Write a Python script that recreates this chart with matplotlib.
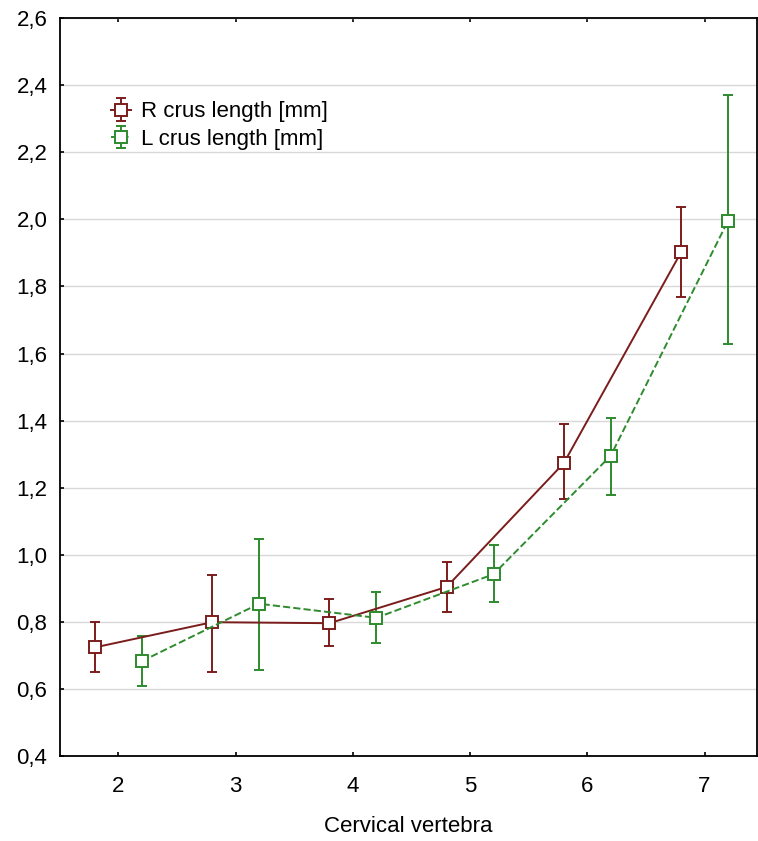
import numpy as np
import matplotlib.pyplot as plt

plt.rcParams['font.family'] = ['Liberation Sans', 'DejaVu Sans']

# 颈椎序号
vertebra = [2, 3, 4, 5, 6, 7]

# 右侧 crus 长度 (均值与误差上下限)
r_mean = [0.725, 0.80, 0.797, 0.905, 1.274, 1.902]
r_low = [0.651, 0.651, 0.729, 0.829, 1.168, 1.768]
r_high = [0.800, 0.940, 0.869, 0.979, 1.390, 2.038]

# 左侧 crus 长度
l_mean = [0.684, 0.855, 0.813, 0.943, 1.296, 1.995]
l_low = [0.609, 0.659, 0.738, 0.860, 1.180, 1.629]
l_high = [0.758, 1.048, 0.889, 1.029, 1.409, 2.370]

y_ticks = [0.4, 0.6, 0.8, 1.0, 1.2, 1.4, 1.6, 1.8, 2.0, 2.2, 2.4, 2.6]
y_tick_labels = ['0,4', '0,6', '0,8', '1,0', '1,2', '1,4', '1,6', '1,8', '2,0', '2,2', '2,4', '2,6']

red = '#7b1c1c'
green = '#2e8b2e'

x = np.array(vertebra, dtype=float)
r_mean = np.array(r_mean)
l_mean = np.array(l_mean)
r_err = [r_mean - np.array(r_low), np.array(r_high) - r_mean]
l_err = [l_mean - np.array(l_low), np.array(l_high) - l_mean]

fig = plt.figure(figsize=(7.58, 8.41), dpi=100)
ax = fig.add_axes([0.079, 0.1005, 0.920, 0.8782])

style = dict(linewidth=1.4, marker='s', markersize=8.5, markerfacecolor='white',
             markeredgewidth=1.4, capsize=3.8, elinewidth=1.4, capthick=1.4, zorder=3)
ax.errorbar(x - 0.2, r_mean, yerr=r_err, color=red, linestyle='-',
            label='R crus length [mm]', **style)
ax.errorbar(x + 0.2, l_mean, yerr=l_err, color=green, linestyle='--',
            label='L crus length [mm]', **style)

ax.set_xlim(1.5, 7.45)
ax.set_ylim(0.4, 2.6)
ax.set_xticks(vertebra)
ax.set_yticks(y_ticks)
ax.set_yticklabels(y_tick_labels)
ax.tick_params(axis='both', direction='in', length=3, width=1.2, labelsize=16, colors='black')
ax.tick_params(axis='x', top=True, pad=14)
ax.tick_params(axis='y', pad=9)
ax.grid(axis='y', color='#d8d8d8', linewidth=1)
ax.set_axisbelow(True)
for s in ax.spines.values():
    s.set_linewidth(1.3)
    s.set_color('black')

ax.set_xlabel('Cervical vertebra', fontsize=16, labelpad=14)

leg = ax.legend(loc='upper left', bbox_to_anchor=(0.074, 0.887), frameon=False, fontsize=16,
                handlelength=0.9, handletextpad=0.45, labelspacing=0.3, borderaxespad=0,
                borderpad=0)

fig.savefig('out.png', dpi=100)
